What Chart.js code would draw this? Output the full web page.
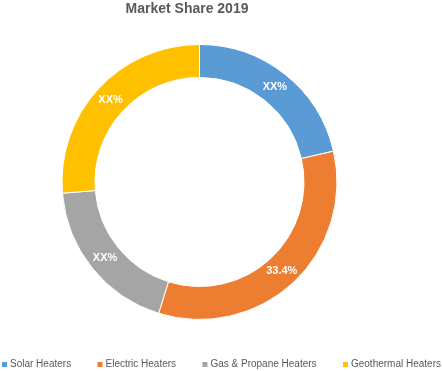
<!DOCTYPE html>
<html>
<head>
<meta charset="utf-8">
<script src="https://cdn.jsdelivr.net/npm/chart.js@4.4.1/dist/chart.umd.min.js"></script>
<style>
    html, body { margin: 0; padding: 0; background: #fff; }
    .chart-container { position: relative; width: 443px; height: 371px; }
</style>
</head>
<body>
<div class="chart-container">
    <canvas id="shareChart"></canvas>
</div>

<script>
    // Market share per heater type
    const categories = ['Solar Heaters', 'Electric Heaters', 'Gas & Propane Heaters', 'Geothermal Heaters'];
    const shares = [21.4, 33.4, 18.9, 26.3];
    const sliceLabels = ['XX%', '33.4%', 'XX%', 'XX%'];
    const colors = ['#5B9BD5', '#ED7D31', '#A5A5A5', '#FFC000'];
    const chartTitle = 'Market Share 2019';

    const textColor = '#595959';
    const baseFont = '"Liberation Sans", Arial, sans-serif';

    // white labels in the middle of each ring segment
    const sliceLabelPlugin = {
        id: 'sliceLabels',
        afterDatasetsDraw(chart) {
            const ctx = chart.ctx;
            const meta = chart.getDatasetMeta(0);
            ctx.save();
            ctx.font = 'bold 11px ' + baseFont;
            ctx.fillStyle = '#ffffff';
            ctx.textAlign = 'center';
            ctx.textBaseline = 'middle';
            meta.data.forEach((arc, i) => {
                const p = arc.tooltipPosition();
                ctx.fillText(sliceLabels[i], p.x, p.y);
            });
            ctx.restore();
        }
    };

    // title + legend drawn like the office-style chart
    const framePlugin = {
        id: 'frame',
        afterDraw(chart) {
            const ctx = chart.ctx;
            ctx.save();
            ctx.fillStyle = textColor;
            ctx.font = 'bold 14px ' + baseFont;
            ctx.textAlign = 'center';
            ctx.textBaseline = 'middle';
            ctx.fillText(chartTitle, 187, 9);

            ctx.font = '10px ' + baseFont;
            ctx.textAlign = 'left';
            const widths = categories.map(c => ctx.measureText(c).width);
            const left = 2, right = 441, box = 5, gap = 3;
            const used = widths.reduce((a, w) => a + w + box + gap, 0);
            const spacing = (right - left - used) / (categories.length - 1);
            let x = left;
            const y = 364.5;
            categories.forEach((c, i) => {
                ctx.fillStyle = colors[i];
                ctx.fillRect(x, y - 2.5, box, box);
                ctx.fillStyle = textColor;
                ctx.fillText(c, x + box + gap, y);
                x += box + gap + widths[i] + spacing;
            });
            ctx.restore();
        }
    };

    const ctx = document.getElementById('shareChart').getContext('2d');
    const chart = new Chart(ctx, {
        type: 'doughnut',
        data: {
            labels: categories,
            datasets: [{
                data: shares,
                backgroundColor: colors,
                borderColor: '#ffffff',
                borderWidth: 1
            }]
        },
        options: {
            responsive: true,
            maintainAspectRatio: false,
            animation: false,
            cutout: '76%',
            layout: {
                padding: { top: 44, bottom: 51, left: 0, right: 44 }
            },
            plugins: {
                legend: { display: false },
                title: { display: false },
                tooltip: { enabled: false }
            }
        },
        plugins: [sliceLabelPlugin, framePlugin]
    });
</script>
</body>
</html>
